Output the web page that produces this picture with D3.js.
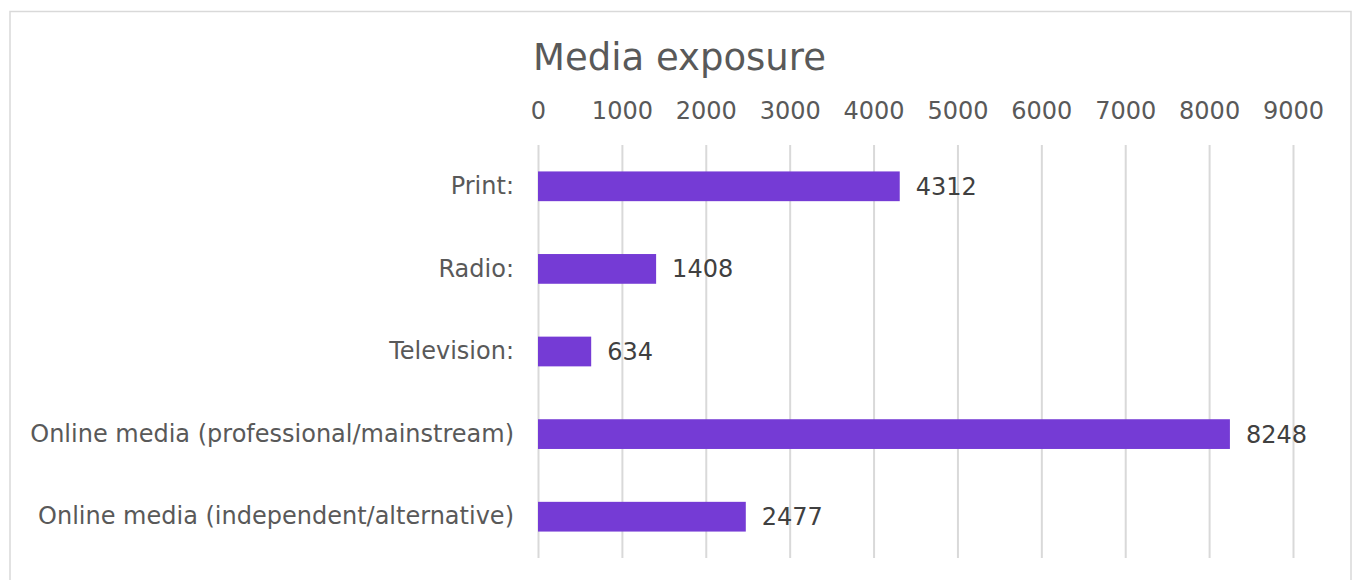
<!DOCTYPE html>
<html><head><meta charset="utf-8">
<script src="https://cdn.jsdelivr.net/npm/d3@7"></script>
<style>html,body{margin:0;padding:0;background:#fff;}</style>
</head><body>
<svg id="chart" width="1354" height="580"></svg>
<script>
const categories = ["Print:", "Radio:", "Television:", "Online media (professional/mainstream)", "Online media (independent/alternative)"];
const values = [4312, 1408, 634, 8248, 2477];
const tickValues = [0, 1000, 2000, 3000, 4000, 5000, 6000, 7000, 8000, 9000];
const title = "Media exposure";

const svg = d3.select("#chart");
const font = "DejaVu Sans, Verdana, sans-serif";

svg.append("rect").attr("x", 10).attr("y", 11.5).attr("width", 1341).attr("height", 600)
  .attr("fill", "#fff").attr("stroke", "#d9d9d9").attr("stroke-width", 1.5);

const x = d3.scaleLinear().domain([0, 9000]).range([538, 1293]);
const y = d3.scaleBand().domain(categories).range([145, 558]).paddingInner(0.64).paddingOuter(0.32);

svg.append("text").attr("x", 533).attr("y", 70).attr("font-family", font).attr("font-size", 37)
  .attr("fill", "#595959").text(title);

const gx = svg.append("g").attr("transform", "translate(0,145)")
  .call(d3.axisTop(x).tickValues(tickValues).tickSize(-413).tickFormat(d3.format("d")));
gx.select(".domain").remove();
gx.selectAll(".tick line").attr("stroke", "#d9d9d9").attr("stroke-width", 2);
gx.selectAll(".tick text").attr("font-family", font).attr("font-size", 24).attr("fill", "#595959").attr("y", -26);

const gy = svg.append("g").attr("transform", "translate(538,0)")
  .call(d3.axisLeft(y).tickSize(0).tickPadding(24));
gy.select(".domain").remove();
gy.selectAll(".tick text").attr("font-family", font).attr("font-size", 24).attr("fill", "#595959");

svg.append("g").selectAll("rect.bar").data(values).join("rect")
  .attr("class", "bar")
  .attr("x", x(0)).attr("y", (d, i) => y(categories[i]))
  .attr("width", d => x(d) - x(0)).attr("height", y.bandwidth())
  .attr("fill", "#753bd5");

svg.append("g").selectAll("text.val").data(values).join("text")
  .attr("class", "val")
  .attr("x", d => x(d) + 16).attr("y", (d, i) => y(categories[i]) + y.bandwidth() / 2)
  .attr("dy", "0.35em").attr("font-family", font).attr("font-size", 24).attr("fill", "#404040")
  .text(d => d);
</script>
</body></html>
